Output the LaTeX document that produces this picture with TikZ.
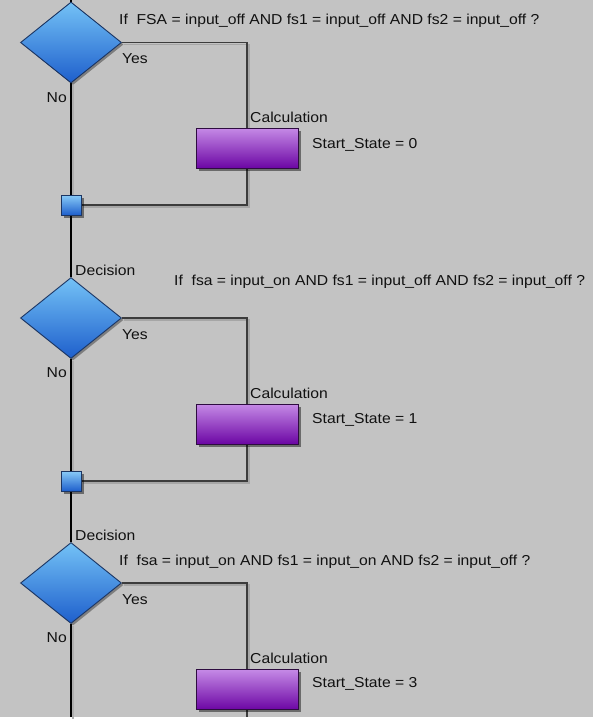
\documentclass[tikz,border=0pt]{standalone}
\usepackage{fontspec}
\setmainfont{Liberation Sans}[FakeStretch=1.09]
\usetikzlibrary{shapes.geometric,shadows}
\pgfdeclarelayer{back}
\pgfdeclarelayer{lines}
\pgfsetlayers{back,lines,main}
\definecolor{bggray}{HTML}{C3C3C3}
\definecolor{linedark}{HTML}{3C3C3C}
\definecolor{lineshadow}{HTML}{A6A6A6}
\definecolor{bluetop}{HTML}{74C2F6}
\definecolor{bluebot}{HTML}{1E5FCC}
\definecolor{blueedge}{HTML}{1B3563}
\definecolor{purtop}{HTML}{C58AE6}
\definecolor{purbot}{HTML}{6C06A4}
\definecolor{puredge}{HTML}{2E0C40}
\definecolor{txt}{HTML}{111111}
\tikzset{
  lbl/.style={inner sep=0pt, text=txt, font=\fontsize{14.4pt}{17pt}\selectfont},
  decisionshape/.style={diamond, draw=blueedge, line width=0.9pt, inner sep=0pt,
    minimum width=101pt, minimum height=81pt, top color=bluetop, bottom color=bluebot,
    drop shadow={shadow xshift=2pt, shadow yshift=-2pt, fill=black, opacity=0.35}},
  calcbox/.style={rectangle, draw=puredge, line width=0.9pt, inner sep=0pt,
    minimum width=102pt, minimum height=40pt, top color=purtop, bottom color=purbot,
    drop shadow={shadow xshift=2.5pt, shadow yshift=-2.5pt, fill=black, opacity=0.45}},
  junction/.style={rectangle, draw=blueedge, line width=0.9pt, inner sep=0pt,
    minimum width=20pt, minimum height=20pt, top color=bluetop!85!white, bottom color=bluebot,
    drop shadow={shadow xshift=2.5pt, shadow yshift=-2.5pt, fill=black, opacity=0.45}},
  flowline/.style={draw=linedark, line width=1.3pt},
  mainline/.style={draw=black, line width=1.2pt},
  shadowline/.style={draw=lineshadow, line width=1.3pt, transform canvas={shift={(2pt,-2pt)}}},
}
\begin{document}
\begin{tikzpicture}[x=1pt,y=-1pt]
\useasboundingbox (0,0) rectangle (594,720);
\begin{pgfonlayer}{back}
  \fill[white] (0,0) rectangle (594,720);
  \fill[bggray] (0,0) rectangle (593,717);
\end{pgfonlayer}

% ---- nodes ----
\node[decisionshape] (d1) at (71,42.5) {};
\node[calcbox] (c1) at (247,148) {};
\node[junction] (j1) at (71,205) {};
\node[decisionshape] (d2) at (71,318) {};
\node[calcbox] (c2) at (247,424) {};
\node[junction] (j2) at (71,481) {};
\node[decisionshape] (d3) at (71,583) {};
\node[calcbox] (c3) at (247,689.5) {};
\coordinate (top) at (71,0);
\coordinate (bottom) at (71,717);

% ---- labels ----
\node[lbl, anchor=base west] (q1) at (119,24) {If\ \ FSA = input\_off AND fs1 = input\_off AND fs2 = input\_off ?};
\node[lbl, anchor=base west] (y1) at (122,63) {Yes};
\node[lbl, anchor=base east] (n1) at (67,102) {No};
\node[lbl, anchor=base west] (k1) at (250,122) {Calculation};
\node[lbl, anchor=base west] (s1) at (312,148) {Start\_State = 0};

\node[lbl, anchor=base west] (e2) at (75,275) {Decision};
\node[lbl, anchor=base west] (q2) at (174,285) {If\ \ fsa = input\_on AND fs1 = input\_off AND fs2 = input\_off ?};
\node[lbl, anchor=base west] (y2) at (122,339) {Yes};
\node[lbl, anchor=base east] (n2) at (67,377) {No};
\node[lbl, anchor=base west] (k2) at (250,398) {Calculation};
\node[lbl, anchor=base west] (s2) at (312,423) {Start\_State = 1};

\node[lbl, anchor=base west] (e3) at (75,540) {Decision};
\node[lbl, anchor=base west] (q3) at (119,565) {If\ \ fsa = input\_on AND fs1 = input\_on AND fs2 = input\_off ?};
\node[lbl, anchor=base west] (y3) at (122,604) {Yes};
\node[lbl, anchor=base east] (n3) at (67,642) {No};
\node[lbl, anchor=base west] (k3) at (250,663) {Calculation};
\node[lbl, anchor=base west] (s3) at (312,687) {Start\_State = 3};

% ---- connectors ----
\begin{pgfonlayer}{lines}
  % shadows
  \draw[shadowline] (d1.east) -| (c1.north);
  \draw[shadowline] (c1.south) |- (j1.east);
  \draw[shadowline] (d2.east) -| (c2.north);
  \draw[shadowline] (c2.south) |- (j2.east);
  \draw[shadowline] (d3.east) -| (c3.north);
  \draw[shadowline, draw=lineshadow!70!bggray] (d1.south) -- (j1.north);
  \draw[shadowline, draw=lineshadow!70!bggray] (d2.south) -- (j2.north);
  \draw[shadowline, draw=lineshadow!70!bggray] (d3.south) -- (bottom);
  % lines
  \draw[flowline] (d1.east) -| (c1.north);
  \draw[flowline] (c1.south) |- (j1.east);
  \draw[flowline] (d2.east) -| (c2.north);
  \draw[flowline] (c2.south) |- (j2.east);
  \draw[flowline] (d3.east) -| (c3.north);
  \draw[flowline] (c3.south) -- (c3.south |- bottom);
  \draw[mainline] (top) -- (d1.north);
  \draw[mainline] (d1.south) -- (j1.north);
  \draw[mainline] (j1.south) -- (d2.north);
  \draw[mainline] (d2.south) -- (j2.north);
  \draw[mainline] (j2.south) -- (d3.north);
  \draw[mainline] (d3.south) -- (bottom);
\end{pgfonlayer}
\end{tikzpicture}
\end{document}
